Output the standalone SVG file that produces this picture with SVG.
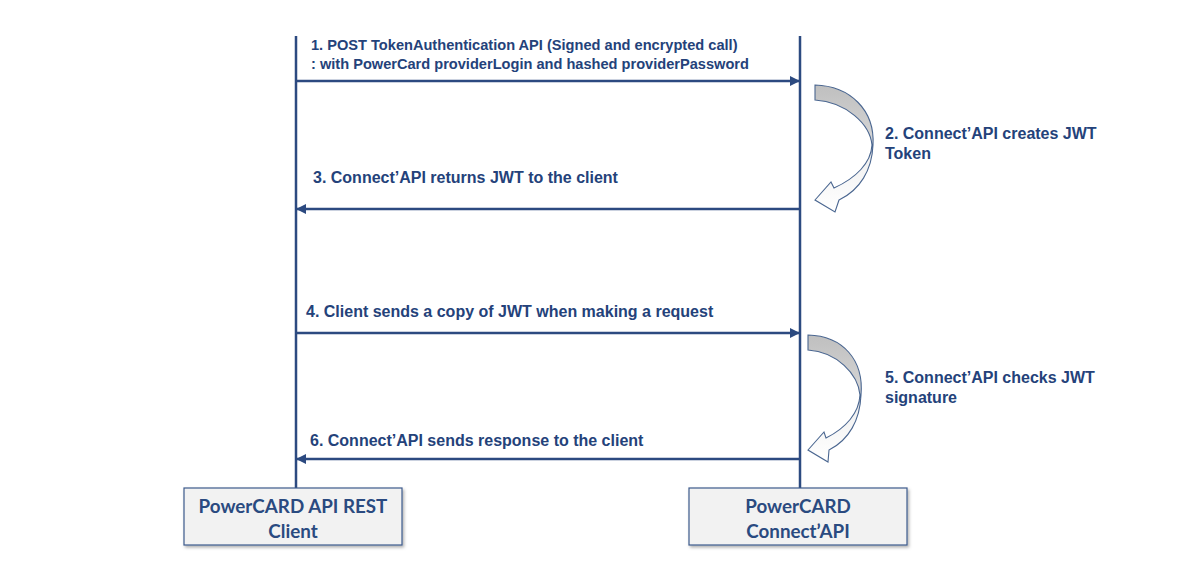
<svg xmlns="http://www.w3.org/2000/svg" width="1180" height="561" viewBox="0 0 1180 561">
<style>
.lbl{font-family:"Liberation Sans",Arial,sans-serif;font-weight:bold;font-size:16px;fill:#24427a}
.small{font-size:14.6px}
.box{fill:#f2f2f2;stroke:#3d5a8c;stroke-width:1.2}
.btxt{font-family:Lato,"Open Sans",sans-serif;font-weight:bold;font-size:18.8px;fill:#2a4a80;text-anchor:middle}
.life{stroke:#2c4a80;stroke-width:2.5}
.msg{stroke:#2c4a80;stroke-width:2.5;fill:none}
.curve{stroke:#4a6690;stroke-width:1.1;fill:url(#cg)}
</style>
<defs>
<marker id="ah" viewBox="0 0 10 10" refX="9" refY="5" markerWidth="4" markerHeight="4" orient="auto" markerUnits="strokeWidth">
<path d="M0,0 L10,5 L0,10 Z" fill="#2c4a80"/>
</marker>
<linearGradient id="cg" x1="0" y1="0" x2="0" y2="1">
<stop offset="0" stop-color="#bfbfbf"/>
<stop offset="0.45" stop-color="#d6d6d6"/>
<stop offset="0.6" stop-color="#f2f2f2"/>
<stop offset="1" stop-color="#ffffff"/>
</linearGradient>
<filter id="sh" x="-10%" y="-10%" width="120%" height="130%">
<feDropShadow dx="1.5" dy="2" stdDeviation="1.5" flood-color="#000" flood-opacity="0.3"/>
</filter>
</defs>
<rect width="1180" height="561" fill="#ffffff"/>
<g id="client">
<line class="life" x1="296" y1="36" x2="296" y2="488"/>
<rect class="box" x="184" y="488" width="218" height="57" filter="url(#sh)"/>
<text class="btxt" x="293" y="513">PowerCARD API REST</text>
<text class="btxt" x="293" y="538">Client</text>
</g>
<g id="connectapi">
<line class="life" x1="800" y1="36" x2="800" y2="488"/>
<rect class="box" x="689" y="488" width="218" height="57" filter="url(#sh)"/>
<text class="btxt" x="798" y="513">PowerCARD</text>
<text class="btxt" x="798" y="538">Connect’API</text>
</g>
<g id="connectors">
<line class="msg" x1="296" y1="81" x2="799" y2="81" marker-end="url(#ah)"/>
<line class="msg" x1="800" y1="209" x2="297" y2="209" marker-end="url(#ah)"/>
<line class="msg" x1="296" y1="333" x2="799" y2="333" marker-end="url(#ah)"/>
<line class="msg" x1="800" y1="459" x2="297" y2="459" marker-end="url(#ah)"/>
<path id="c1" class="curve" d="M815,85 C850,86 875,110 873,145 C872,170 860,190 839,200 L835,212 L815,200 L831,182 L834,188 C856,178 871,163 872,145 C870,124 846,102 815,100 Z"/>
<path id="c2" class="curve" transform="translate(-7,250)" d="M815,85 C850,86 871,110 868,145 C867,170 856,190 836,200 L835,212 L815,200 L831,182 L833,188 C853,178 866,163 867,145 C865,124 844,102 815,100 Z"/>
</g>
<g id="labels">
<text class="lbl small" x="311" y="50">1. POST TokenAuthentication API (Signed and encrypted call)</text>
<text class="lbl small" x="311" y="69">: with PowerCard providerLogin and hashed providerPassword</text>
<text class="lbl" x="885" y="139">2. Connect’API creates JWT</text>
<text class="lbl" x="885" y="159">Token</text>
<text class="lbl" x="313" y="183">3. Connect’API returns JWT to the client</text>
<text class="lbl" x="306" y="317">4. Client sends a copy of JWT when making a request</text>
<text class="lbl" x="885" y="383">5. Connect’API checks JWT</text>
<text class="lbl" x="885" y="403">signature</text>
<text class="lbl" x="310" y="446">6. Connect’API sends response to the client</text>
</g>
</svg>
